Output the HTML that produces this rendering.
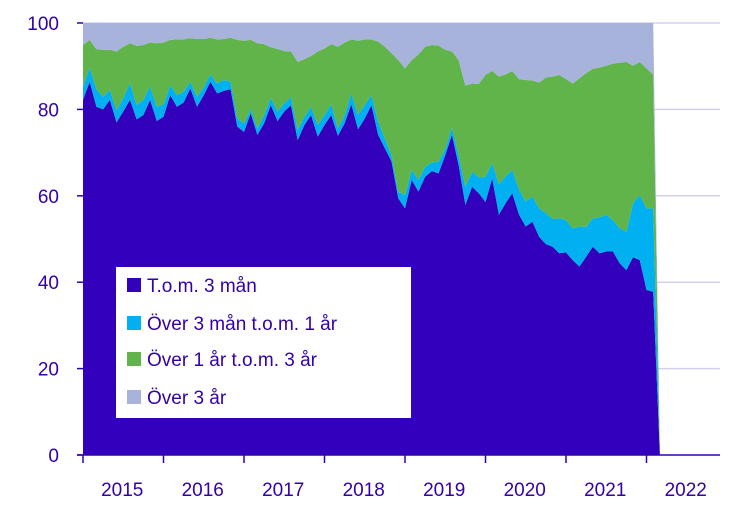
<!DOCTYPE html>
<html><head><meta charset="utf-8"><style>
html,body{margin:0;padding:0;background:#fff;}
svg{display:block;font-family:"Liberation Sans",sans-serif;}
</style></head><body>
<svg id="chart" width="736" height="523" viewBox="0 0 736 523" xmlns="http://www.w3.org/2000/svg">
<g id="grid"></g>
<g id="areas"></g>
<g id="axes"></g>
<g id="legend">
<rect x="116" y="267" width="295" height="151" fill="#fff"/>
<g><rect x="127" y="278" width="14" height="14" fill="#3300bb"/><text x="147" y="292" font-size="19" fill="#3300aa">T.o.m. 3 mån</text></g>
<g><rect x="127" y="316" width="14" height="14" fill="#00b0f0"/><text x="147" y="330" font-size="19" fill="#3300aa">Över 3 mån t.o.m. 1 år</text></g>
<g><rect x="127" y="352" width="14" height="14" fill="#60b44a"/><text x="147" y="366" font-size="19" fill="#3300aa">Över 1 år t.o.m. 3 år</text></g>
<g><rect x="127" y="390" width="14" height="14" fill="#a8b3dc"/><text x="147" y="404" font-size="19" fill="#3300aa">Över 3 år</text></g>
</g>
</svg>
<script>
const years = ["2015","2016","2017","2018","2019","2020","2021","2022"];
const yTicks = [0,20,40,60,80,100];
const tom3man = [82.2,86.4,80.6,80.0,82.2,77.0,79.5,82.2,77.7,78.7,82.2,77.3,78.3,83.3,80.6,81.6,84.9,80.6,83.3,86.4,83.7,84.3,84.7,76.0,74.8,79.1,74.1,76.8,81.0,77.3,79.5,81.0,72.9,76.4,78.7,73.7,76.4,78.7,73.9,76.8,81.2,75.4,77.9,81.0,74.1,71.0,67.9,59.4,57.1,63.7,61.0,64.4,65.7,65.2,69.4,74.1,67.1,57.9,62.1,60.6,58.6,64.0,55.6,58.3,60.6,55.6,52.9,54.0,50.5,48.8,48.2,46.7,46.9,45.1,43.6,45.9,48.2,46.7,47.1,47.1,44.4,42.8,45.8,45.1,38.2,37.8,0];
const over3man = [3.0,3.2,4.1,2.9,2.3,2.8,3.1,3.9,3.3,3.5,3.1,3.3,2.9,2.3,2.7,2.5,1.5,2.3,1.9,1.7,2.3,2.5,1.7,1.9,1.9,1.0,1.5,1.9,1.7,2.2,1.9,1.9,2.3,1.9,1.9,2.7,2.3,2.5,1.7,1.9,2.5,3.3,3.1,2.3,3.1,2.3,1.5,1.5,3.1,2.3,2.7,2.3,2.0,2.7,1.5,1.7,2.3,4.2,3.5,3.6,5.8,3.5,7.1,6.2,5.4,5.8,5.8,5.8,6.6,7.2,6.4,8.1,7.5,7.3,9.3,6.9,6.6,8.3,8.5,7.3,8.1,8.9,12.5,15.0,18.9,19.3,0];
const over1ar = [9.7,6.5,9.2,10.9,9.3,13.6,11.9,9.2,13.7,12.7,10.2,14.7,14.3,10.5,12.9,12.1,10.1,13.4,11.1,8.5,10.2,9.5,10.2,18.2,19.2,16.0,19.7,16.4,11.7,14.5,12.1,10.5,15.8,13.3,11.8,17.0,15.4,13.9,18.9,16.8,12.5,17.2,15.2,12.9,18.5,21.2,23.6,30.5,29.3,25.4,29.0,27.8,27.2,26.9,22.9,17.6,22.0,23.4,20.4,21.7,23.6,21.4,24.9,23.6,22.9,25.6,28.1,26.9,29.1,31.4,33.0,33.2,32.6,33.6,34.3,35.6,34.6,34.7,34.5,36.2,38.3,39.3,31.8,30.9,32.4,30.9,0];
const over3ar = [5.1,3.9,6.1,6.2,6.2,6.6,5.5,4.7,5.3,5.1,4.5,4.7,4.5,3.9,3.8,3.8,3.5,3.7,3.7,3.4,3.8,3.7,3.4,3.9,4.1,3.9,4.7,4.9,5.6,6.0,6.5,6.6,9.0,8.4,7.6,6.6,5.9,4.9,5.5,4.5,3.8,4.1,3.8,3.8,4.3,5.5,7.0,8.6,10.5,8.6,7.3,5.5,5.1,5.2,6.2,6.6,8.6,14.5,14.0,14.1,12.0,11.1,12.4,11.9,11.1,13.0,13.2,13.3,13.8,12.6,12.4,12.0,13.0,14.0,12.8,11.6,10.6,10.3,9.9,9.4,9.2,9.0,9.9,9.0,10.5,12.0,0];

const NS="http://www.w3.org/2000/svg";
const X0=83, YEARW=80.5, Y0=455, YTOP=23, XEND=720;
function xMonth(i){return X0 + i*YEARW/12;}
function yVal(v){return Y0 - v*(Y0-YTOP)/100;}
const axisColor="#3300aa";
const grid=document.getElementById('grid');
const axes=document.getElementById('axes');
const areas=document.getElementById('areas');

yTicks.forEach(t=>{
  if(t>0){
    const l=document.createElementNS(NS,'line');
    
    
    l.setAttribute('x1',X0);l.setAttribute('x2',XEND);
    l.setAttribute('y1',yVal(t));l.setAttribute('y2',yVal(t));
    l.setAttribute('stroke','#d4d0ec');l.setAttribute('stroke-width','1.5');
    grid.appendChild(l);
  }
  const tk=document.createElementNS(NS,'line');
  
  
  tk.setAttribute('x1',X0-6);tk.setAttribute('x2',X0);
  tk.setAttribute('y1',yVal(t));tk.setAttribute('y2',yVal(t));
  tk.setAttribute('stroke',axisColor);tk.setAttribute('stroke-width','1.5');
  axes.appendChild(tk);
  const tx=document.createElementNS(NS,'text');
  
  
  tx.setAttribute('x',X0-24);tx.setAttribute('y',yVal(t)+7);
  tx.setAttribute('text-anchor','end');tx.setAttribute('font-size','19');
  tx.setAttribute('fill',axisColor);
  tx.textContent=t;
  axes.appendChild(tx);
});

const series=[tom3man,over3man,over1ar,over3ar];
const colors=["#3300bb","#00b0f0","#60b44a","#a8b3dc"];
const names=["area-tom-3-man","area-over-3-man-1-ar","area-over-1-ar-3-ar","area-over-3-ar"];
const base=new Array(tom3man.length).fill(0);
series.forEach((s,k)=>{
  const top=s.map((v,i)=>base[i]+v);
  let d='';
  top.forEach((v,i)=>{d+=(i?'L':'M')+xMonth(i).toFixed(2)+','+yVal(v).toFixed(2);});
  for(let i=top.length-1;i>=0;i--){d+='L'+xMonth(i).toFixed(2)+','+yVal(base[i]).toFixed(2);}
  d+='Z';
  const p=document.createElementNS(NS,'path');
  
  
  p.setAttribute('d',d);p.setAttribute('fill',colors[k]);
  areas.appendChild(p);
  top.forEach((v,i)=>base[i]=v);
});

const xl=document.createElementNS(NS,'line');


xl.setAttribute('x1',X0-6);xl.setAttribute('x2',XEND);
xl.setAttribute('y1',Y0);xl.setAttribute('y2',Y0);
xl.setAttribute('stroke',axisColor);xl.setAttribute('stroke-width','1.5');
axes.appendChild(xl);
years.forEach((y,i)=>{
  const xs=X0+i*YEARW;
  const tk=document.createElementNS(NS,'line');
  
  
  tk.setAttribute('x1',xs);tk.setAttribute('x2',xs);
  tk.setAttribute('y1',Y0);tk.setAttribute('y2',Y0+8);
  tk.setAttribute('stroke',axisColor);tk.setAttribute('stroke-width','1.5');
  axes.appendChild(tk);
  const tx=document.createElementNS(NS,'text');
  
  
  tx.setAttribute('x',xs+YEARW/2-1);tx.setAttribute('y',Y0+41);
  tx.setAttribute('text-anchor','middle');tx.setAttribute('font-size','19');
  tx.setAttribute('fill',axisColor);
  tx.textContent=y;
  axes.appendChild(tx);
});
</script>
</body></html>
